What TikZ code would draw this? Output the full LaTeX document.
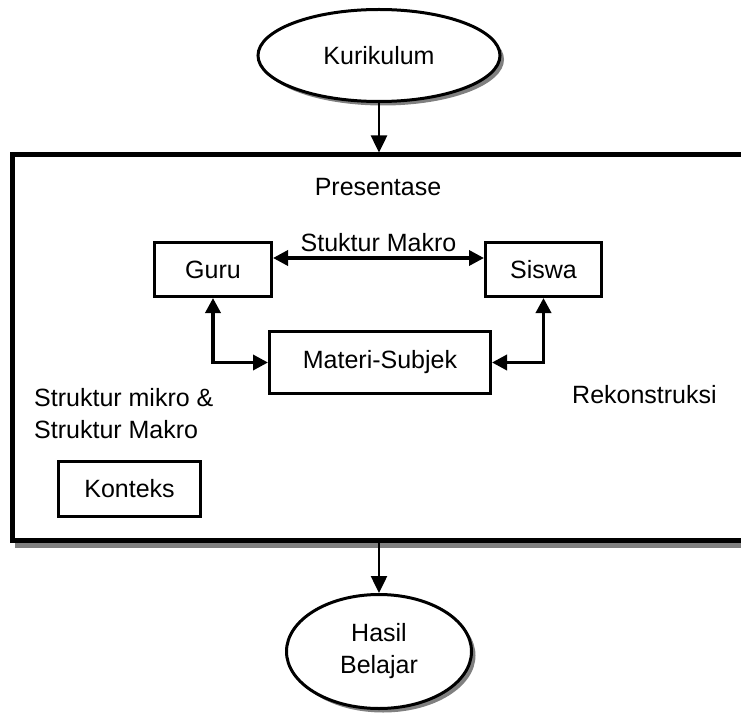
\documentclass[tikz,border=0pt]{standalone}
\usepackage{fontspec}
\setmainfont{Liberation Sans}
\usepackage{tikz}
\usetikzlibrary{shapes}
\usetikzlibrary{shadows}
\usetikzlibrary{arrows.meta}
\tikzset{
	oval node/.style={ellipse,draw,fill=white,line width=3pt,inner sep=0pt,align=center,
		drop shadow={shadow xshift=4pt,shadow yshift=-4pt,fill=gray,opacity=1}},
	box node/.style={rectangle,draw,line width=3pt,inner sep=0pt},
	frame node/.style={rectangle,draw,fill=white,line width=5pt,inner sep=0pt,
		preaction={draw=gray,transform canvas={xshift=5pt,yshift=-5pt}}},
	label text/.style={align=left,inner sep=0pt}
}

\begin{document}
\begin{tikzpicture}[x=1pt,y=-1pt,font=\fontsize{25}{32}\selectfont,
            >={Triangle[width=15pt,length=15pt]},
            link/.style={<->,line width=3.5pt}]
  \useasboundingbox (0,0) rectangle (741,714);
  \node [frame node,minimum width=730.5pt,minimum height=385.5pt] (frame) at (377.75,347.75) {};
  \node [oval node,minimum width=242pt,minimum height=92pt] (kur) at (379,55.5) {Kurikulum};
  \node (pres) at (378,187) {Presentase};
  \node [box node,minimum width=117pt,minimum height=54pt] (guru) at (213,269.5) {Guru};
  \node [box node,minimum width=116pt,minimum height=54pt] (siswa) at (543.5,269.5) {Siswa};
  \node [box node,minimum width=221pt,minimum height=62pt] (materi) at (380,362.5) {Materi-Subjek};
  \node [label text,anchor=west] (mikro) at (34,413.5) {Struktur mikro \&\\Struktur Makro};
  \node [label text,anchor=west] (rekon) at (572,395) {Rekonstruksi};
  \node [box node,minimum width=142pt,minimum height=55pt] (konteks) at (129.5,489) {Konteks};
  \node [oval node,minimum width=185pt,minimum height=114pt] (hasil) at (379,651.5) {Hasil\\Belajar};
  % masuk dan keluar
  \draw [->,line width=2.5pt,>={Triangle[width=16pt,length=17pt]}] (kur) -- (kur |- frame.north);
  \draw [->,line width=2.5pt,>={Triangle[width=16pt,length=17pt]}] (hasil |- frame.south) -- (hasil);
  % hubungan di dalam
  \draw [link] ([yshift=11.5pt]guru.east) -- ([yshift=11.5pt]siswa.west)
    node [midway,above=5pt,inner sep=0pt] {Stuktur Makro};
  \draw [link] (materi.west) -| (guru.south);
  \draw [link] (materi.east) -| (siswa.south);
\end{tikzpicture}
\end{document}
